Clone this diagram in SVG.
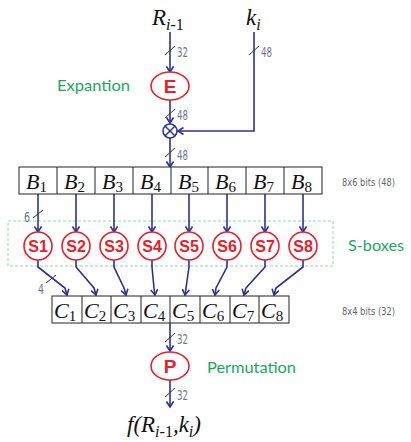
<svg xmlns="http://www.w3.org/2000/svg" width="411" height="442" viewBox="0 0 411 442">
<style>
.w{stroke:#2e3192;stroke-width:1.6;fill:none}
.sl{stroke:#333;stroke-width:1}
.n{font-family:"DejaVu Sans Condensed","DejaVu Sans",sans-serif;font-size:14px;fill:#707890}
.g{font-family:"Lato","Open Sans",sans-serif;font-size:16px;fill:#1aa862}
.m{font-family:"Liberation Serif",serif;font-style:italic;fill:#111}
.sub{font-family:"Liberation Serif",serif;font-style:normal;fill:#111}
.r{stroke:#e8202a;stroke-width:1.6;fill:#fff}
.rt{font-family:"Liberation Sans",Arial,sans-serif;font-weight:bold;fill:#e8202a;text-anchor:middle}
.box{fill:#fff;stroke:#222;stroke-width:1}
.gray{font-family:"DejaVu Sans Condensed","DejaVu Sans",sans-serif;font-size:11px;fill:#666}
</style>
<defs>
<marker id="a" markerWidth="10" markerHeight="10" refX="6" refY="4" orient="auto" markerUnits="userSpaceOnUse">
<path d="M0.5,0.5 L6,4 L0.5,7.5" fill="none" stroke="#2e3192" stroke-width="1.6"/>
</marker>
</defs>
<rect x="8" y="221" width="325" height="45" fill="none" stroke="#8fd8b0" stroke-width="1" stroke-dasharray="3,2"/>
<g id="connectors">
<line class="w" x1="170" y1="32" x2="170" y2="72" marker-end="url(#a)"/>
<line class="w" x1="170" y1="100" x2="170" y2="123" marker-end="url(#a)"/>
<polyline class="w" points="254,32 254,131 178,131" marker-end="url(#a)"/>
<line class="w" x1="170" y1="138" x2="170" y2="167" marker-end="url(#a)"/>
<line class="w" x1="38" y1="194" x2="38" y2="232" marker-end="url(#a)"/>
<line class="w" x1="76" y1="194" x2="76" y2="232" marker-end="url(#a)"/>
<line class="w" x1="114" y1="194" x2="114" y2="232" marker-end="url(#a)"/>
<line class="w" x1="152" y1="194" x2="152" y2="232" marker-end="url(#a)"/>
<line class="w" x1="189" y1="194" x2="189" y2="232" marker-end="url(#a)"/>
<line class="w" x1="227" y1="194" x2="227" y2="232" marker-end="url(#a)"/>
<line class="w" x1="265" y1="194" x2="265" y2="232" marker-end="url(#a)"/>
<line class="w" x1="303" y1="194" x2="303" y2="232" marker-end="url(#a)"/>
<polyline class="w" points="38,260 38,267 65,288 67,295" marker-end="url(#a)"/>
<polyline class="w" points="76,260 76,267 94,288 96,295" marker-end="url(#a)"/>
<polyline class="w" points="114,260 114,267 124,288 126,295" marker-end="url(#a)"/>
<polyline class="w" points="152,260 152,267 154,288 155,295" marker-end="url(#a)"/>
<polyline class="w" points="189,260 189,267 186,288 185,295" marker-end="url(#a)"/>
<polyline class="w" points="227,260 227,267 216,288 215,295" marker-end="url(#a)"/>
<polyline class="w" points="265,260 265,267 246,288 244,295" marker-end="url(#a)"/>
<polyline class="w" points="303,260 303,267 276,288 274,295" marker-end="url(#a)"/>
<line class="w" x1="170" y1="323" x2="170" y2="351" marker-end="url(#a)"/>
<line class="w" x1="170" y1="380" x2="170" y2="407" marker-end="url(#a)"/>
<line class="sl" x1="165" y1="55" x2="175" y2="46"/>
<line class="sl" x1="249" y1="55" x2="259" y2="46"/>
<line class="sl" x1="165" y1="118" x2="175" y2="109"/>
<line class="sl" x1="165" y1="157" x2="175" y2="148"/>
<line class="sl" x1="33" y1="218" x2="43" y2="210"/>
<line class="sl" x1="46" y1="283" x2="56" y2="275"/>
<line class="sl" x1="165" y1="342" x2="175" y2="333"/>
<line class="sl" x1="165" y1="397" x2="175" y2="388"/>
</g>
<g id="labels">
<text class="m" x="152" y="25" font-size="23">R<tspan font-size="16" dy="5">i</tspan><tspan class="sub" font-size="16">-1</tspan></text>
<text class="m" x="246" y="25" font-size="23">k<tspan font-size="16" dy="5">i</tspan></text>
<text class="n" x="177" y="57" textLength="11" lengthAdjust="spacingAndGlyphs">32</text>
<text class="n" x="261" y="57" textLength="11" lengthAdjust="spacingAndGlyphs">48</text>
<text class="n" x="177" y="120" textLength="11" lengthAdjust="spacingAndGlyphs">48</text>
<text class="n" x="177" y="160" textLength="11" lengthAdjust="spacingAndGlyphs">48</text>
<text class="n" x="24" y="222" textLength="6" lengthAdjust="spacingAndGlyphs">6</text>
<text class="n" x="38" y="294" textLength="6" lengthAdjust="spacingAndGlyphs">4</text>
<text class="n" x="177" y="344" textLength="11" lengthAdjust="spacingAndGlyphs">32</text>
<text class="n" x="177" y="400" textLength="11" lengthAdjust="spacingAndGlyphs">32</text>
<text class="g" x="57" y="91" textLength="73" lengthAdjust="spacingAndGlyphs">Expantion</text>
<text class="g" x="348" y="251" textLength="56" lengthAdjust="spacingAndGlyphs">S-boxes</text>
<text class="g" x="207" y="373" textLength="89" lengthAdjust="spacingAndGlyphs">Permutation</text>
<text class="gray" x="342" y="186" textLength="53" lengthAdjust="spacingAndGlyphs">8x6 bits (48)</text>
<text class="gray" x="342" y="315" textLength="53" lengthAdjust="spacingAndGlyphs">8x4 bits (32)</text>
<text class="m" x="127" y="432" font-size="23">f(R<tspan font-size="16" dy="5">i</tspan><tspan class="sub" font-size="16">-1</tspan><tspan dy="-5">,k</tspan><tspan font-size="16" dy="5">i</tspan><tspan dy="-5">)</tspan></text>
</g>
<g id="E">
<ellipse class="r" cx="170" cy="86" rx="19" ry="14"/>
<text class="rt" x="170" y="93" font-size="19">E</text>
</g>
<g id="xor">
<circle cx="170" cy="131" r="7" fill="#fff" stroke="#2e3192" stroke-width="1.6"/>
<line x1="165" y1="126" x2="175" y2="136" stroke="#2e3192" stroke-width="1.4"/>
<line x1="175" y1="126" x2="165" y2="136" stroke="#2e3192" stroke-width="1.4"/>
</g>
<g id="B">
<rect class="box" x="19" y="167" width="303" height="27"/>
<line class="box" x1="57" y1="167" x2="57" y2="194"/>
<line class="box" x1="95" y1="167" x2="95" y2="194"/>
<line class="box" x1="133" y1="167" x2="133" y2="194"/>
<line class="box" x1="171" y1="167" x2="171" y2="194"/>
<line class="box" x1="208" y1="167" x2="208" y2="194"/>
<line class="box" x1="246" y1="167" x2="246" y2="194"/>
<line class="box" x1="284" y1="167" x2="284" y2="194"/>
<g class="m" font-size="22">
<text x="26" y="189">B<tspan class="sub" font-size="15" dy="3">1</tspan></text>
<text x="64" y="189">B<tspan class="sub" font-size="15" dy="3">2</tspan></text>
<text x="102" y="189">B<tspan class="sub" font-size="15" dy="3">3</tspan></text>
<text x="140" y="189">B<tspan class="sub" font-size="15" dy="3">4</tspan></text>
<text x="178" y="189">B<tspan class="sub" font-size="15" dy="3">5</tspan></text>
<text x="215" y="189">B<tspan class="sub" font-size="15" dy="3">6</tspan></text>
<text x="253" y="189">B<tspan class="sub" font-size="15" dy="3">7</tspan></text>
<text x="291" y="189">B<tspan class="sub" font-size="15" dy="3">8</tspan></text>
</g>
</g>
<g id="S1"><circle class="r" cx="38" cy="246" r="14"/><text class="rt" x="38" y="252" font-size="16">S1</text></g>
<g id="S2"><circle class="r" cx="76" cy="246" r="14"/><text class="rt" x="76" y="252" font-size="16">S2</text></g>
<g id="S3"><circle class="r" cx="114" cy="246" r="14"/><text class="rt" x="114" y="252" font-size="16">S3</text></g>
<g id="S4"><circle class="r" cx="152" cy="246" r="14"/><text class="rt" x="152" y="252" font-size="16">S4</text></g>
<g id="S5"><circle class="r" cx="189" cy="246" r="14"/><text class="rt" x="189" y="252" font-size="16">S5</text></g>
<g id="S6"><circle class="r" cx="227" cy="246" r="14"/><text class="rt" x="227" y="252" font-size="16">S6</text></g>
<g id="S7"><circle class="r" cx="265" cy="246" r="14"/><text class="rt" x="265" y="252" font-size="16">S7</text></g>
<g id="S8"><circle class="r" cx="303" cy="246" r="14"/><text class="rt" x="303" y="252" font-size="16">S8</text></g>
<g id="C">
<rect class="box" x="52" y="296" width="237" height="27"/>
<line class="box" x1="82" y1="296" x2="82" y2="323"/>
<line class="box" x1="111" y1="296" x2="111" y2="323"/>
<line class="box" x1="141" y1="296" x2="141" y2="323"/>
<line class="box" x1="170" y1="296" x2="170" y2="323"/>
<line class="box" x1="200" y1="296" x2="200" y2="323"/>
<line class="box" x1="230" y1="296" x2="230" y2="323"/>
<line class="box" x1="259" y1="296" x2="259" y2="323"/>
<g class="m" font-size="22">
<text x="54" y="318">C<tspan class="sub" font-size="15" dy="3">1</tspan></text>
<text x="84" y="318">C<tspan class="sub" font-size="15" dy="3">2</tspan></text>
<text x="113" y="318">C<tspan class="sub" font-size="15" dy="3">3</tspan></text>
<text x="143" y="318">C<tspan class="sub" font-size="15" dy="3">4</tspan></text>
<text x="172" y="318">C<tspan class="sub" font-size="15" dy="3">5</tspan></text>
<text x="202" y="318">C<tspan class="sub" font-size="15" dy="3">6</tspan></text>
<text x="232" y="318">C<tspan class="sub" font-size="15" dy="3">7</tspan></text>
<text x="261" y="318">C<tspan class="sub" font-size="15" dy="3">8</tspan></text>
</g>
</g>
<g id="P">
<ellipse class="r" cx="170" cy="366" rx="19" ry="14"/>
<text class="rt" x="170" y="373" font-size="19">P</text>
</g>
</svg>
